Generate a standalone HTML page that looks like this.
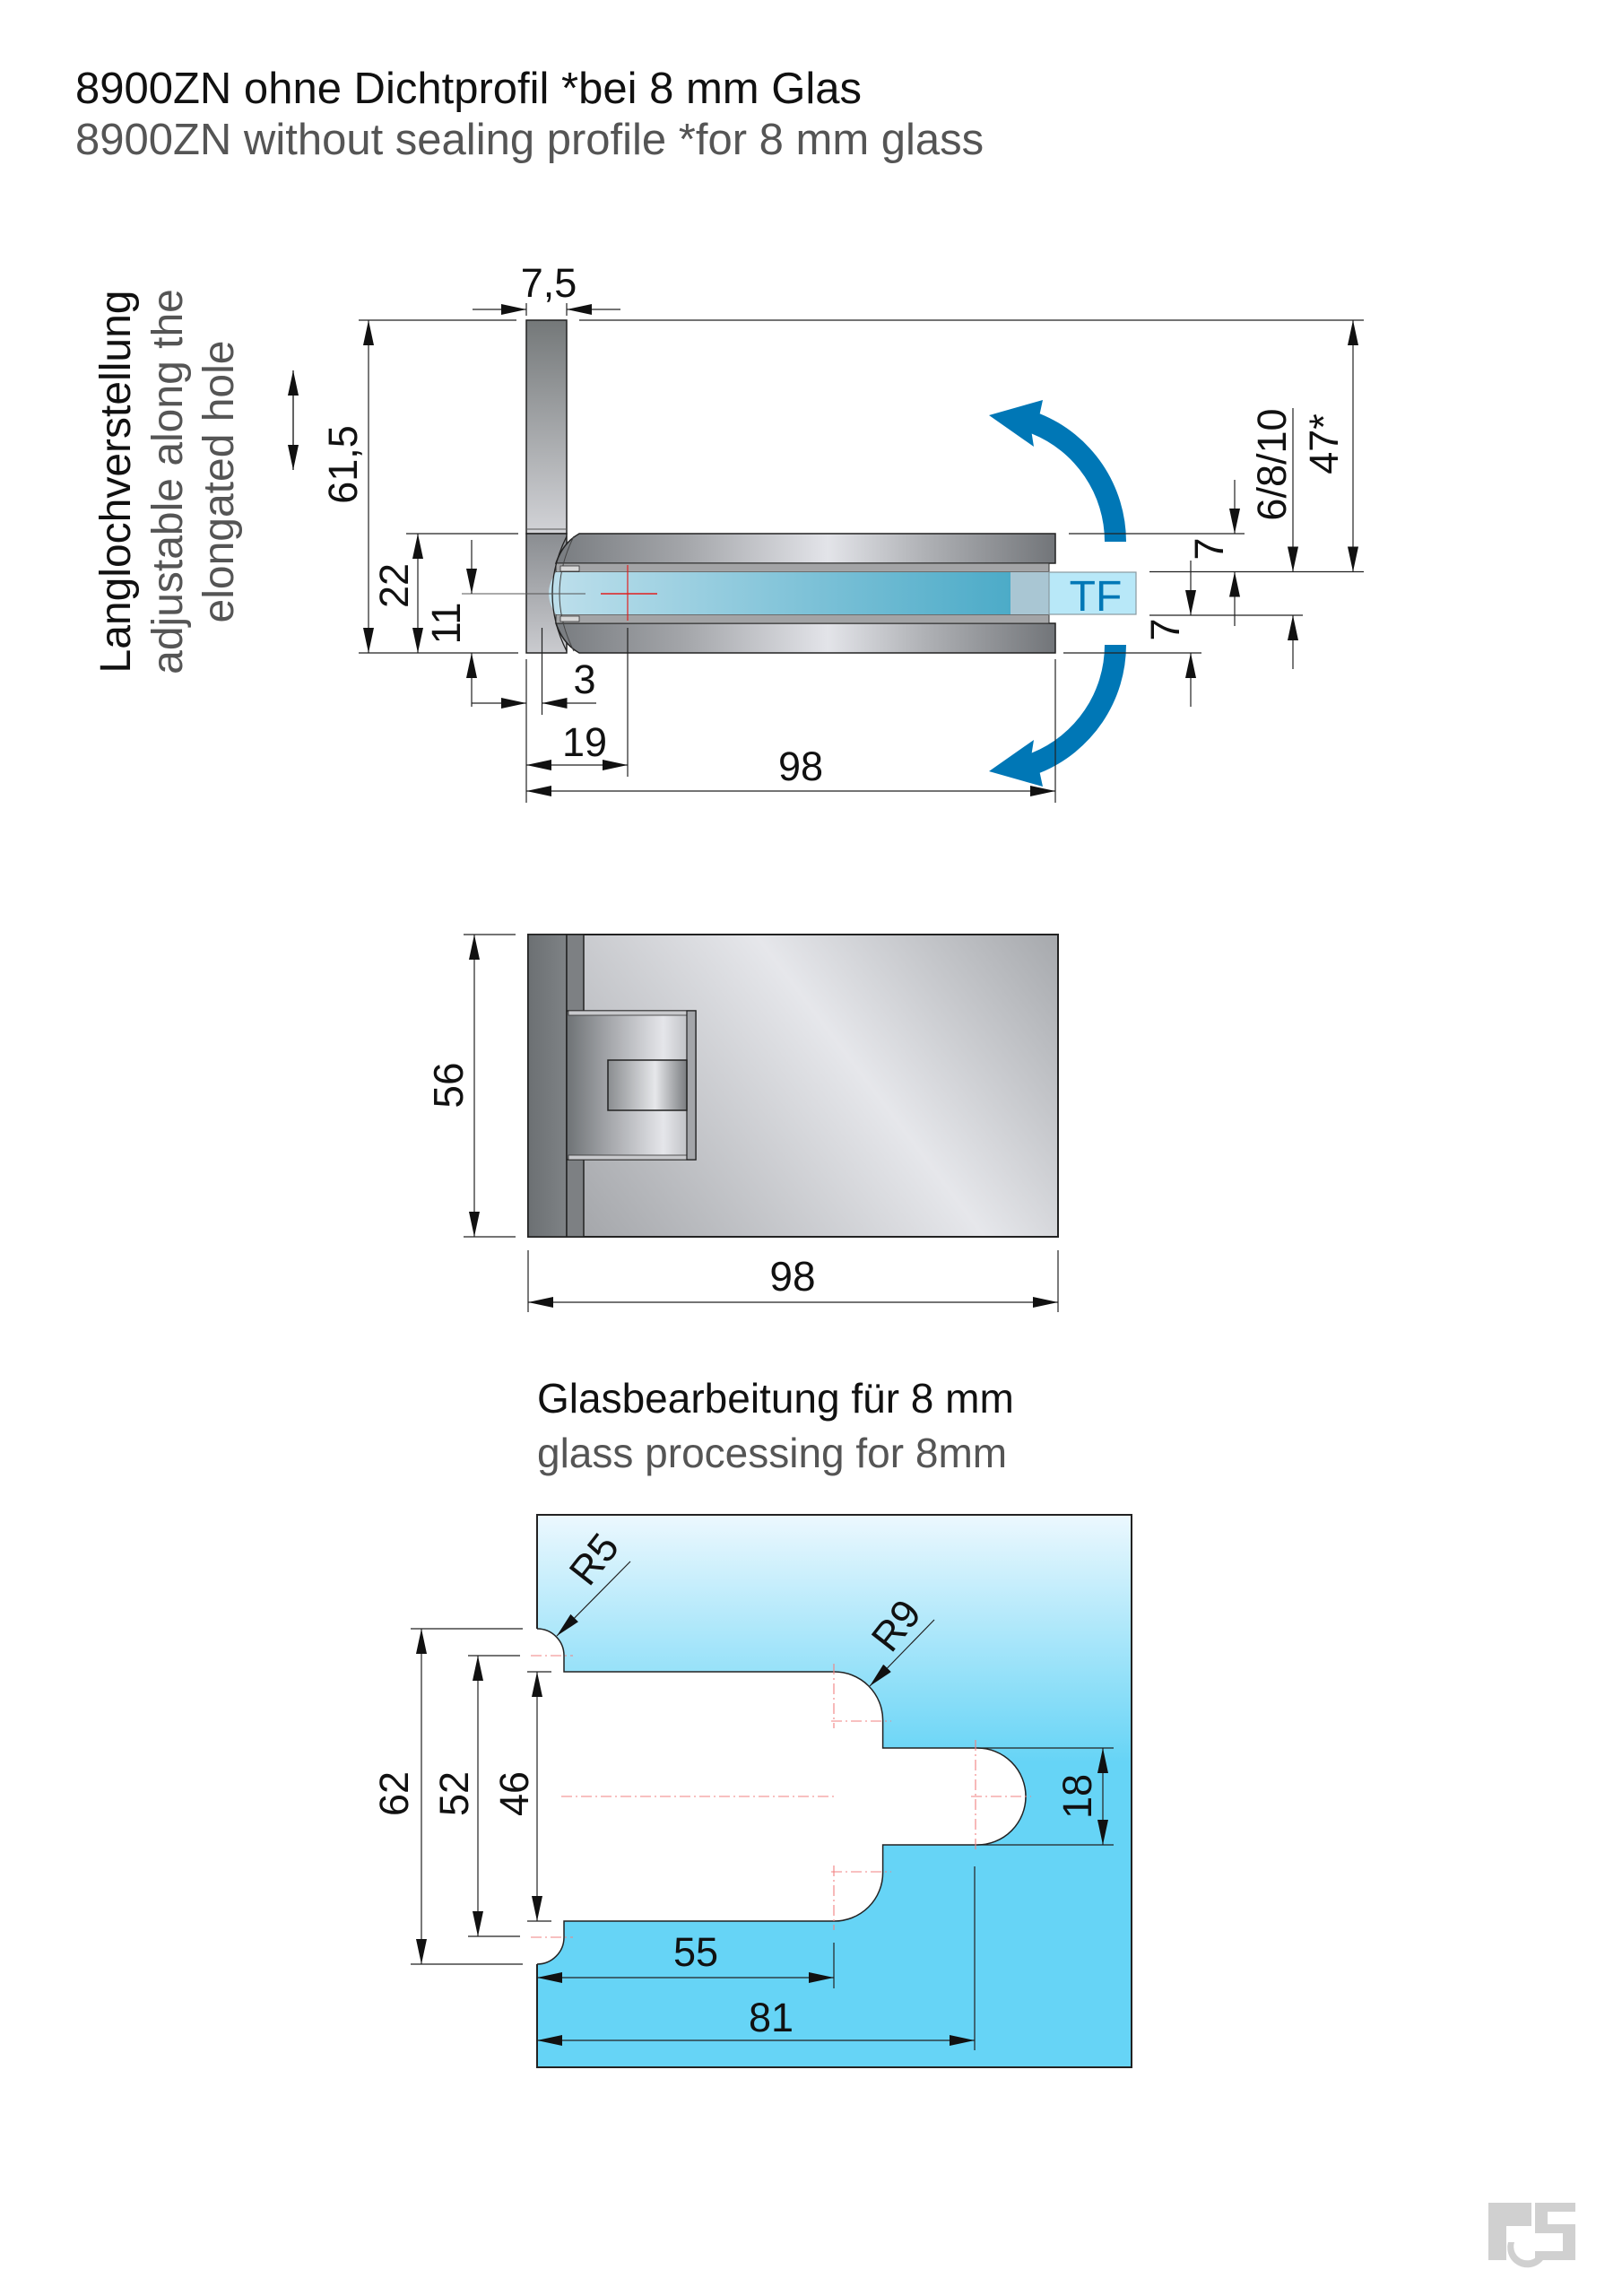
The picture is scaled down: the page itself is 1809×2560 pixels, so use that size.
<!DOCTYPE html>
<html><head><meta charset="utf-8"><style>
html,body{margin:0;padding:0;background:#fff;}
svg{display:block;}
text{font-family:"Liberation Sans",Arial,sans-serif;}
</style></head><body>
<svg width="1809" height="2560" viewBox="0 0 1809 2560" xmlns="http://www.w3.org/2000/svg">
<defs>
<marker id="a" viewBox="0 0 28 12" refX="28" refY="6" markerWidth="28" markerHeight="12" markerUnits="userSpaceOnUse" orient="auto-start-reverse"><path d="M0,0 L28,6 L0,12 z" fill="#111"/></marker>
<linearGradient id="plate" x1="0" y1="357" x2="0" y2="595" gradientUnits="userSpaceOnUse"><stop offset="0" stop-color="#747879"/><stop offset="1" stop-color="#d2d3d7"/></linearGradient>
<linearGradient id="bar" x1="587" y1="0" x2="1177" y2="0" gradientUnits="userSpaceOnUse"><stop offset="0" stop-color="#6e7276"/><stop offset="0.3" stop-color="#a4a6aa"/><stop offset="0.57" stop-color="#e3e4e9"/><stop offset="0.75" stop-color="#b0b2b6"/><stop offset="1" stop-color="#727579"/></linearGradient>
<linearGradient id="blk" x1="0" y1="595" x2="0" y2="728" gradientUnits="userSpaceOnUse"><stop offset="0" stop-color="#8a8d91"/><stop offset="1" stop-color="#cacbcf"/></linearGradient>
<linearGradient id="gl" x1="606" y1="0" x2="1127" y2="0" gradientUnits="userSpaceOnUse"><stop offset="0" stop-color="#bfe0ec"/><stop offset="1" stop-color="#4cabc8"/></linearGradient>
<linearGradient id="face" x1="600" y1="1300" x2="1180" y2="860" gradientUnits="userSpaceOnUse"><stop offset="0" stop-color="#a6a8ac"/><stop offset="0.48" stop-color="#e6e7eb"/><stop offset="1" stop-color="#8c8f93"/></linearGradient>
<linearGradient id="dark" x1="589" y1="0" x2="651" y2="0" gradientUnits="userSpaceOnUse"><stop offset="0" stop-color="#6c7073"/><stop offset="1" stop-color="#868a8d"/></linearGradient>
<linearGradient id="hin" x1="632" y1="0" x2="776" y2="0" gradientUnits="userSpaceOnUse"><stop offset="0" stop-color="#6e7275"/><stop offset="0.35" stop-color="#a8aaae"/><stop offset="0.75" stop-color="#e5e6ea"/><stop offset="1" stop-color="#b4b6ba"/></linearGradient>
<linearGradient id="knu" x1="678" y1="0" x2="766" y2="0" gradientUnits="userSpaceOnUse"><stop offset="0" stop-color="#8a8d90"/><stop offset="0.6" stop-color="#e6e7ea"/><stop offset="1" stop-color="#7a7d80"/></linearGradient>
<linearGradient id="glass" x1="0" y1="1689" x2="0" y2="1965" gradientUnits="userSpaceOnUse"><stop offset="0" stop-color="#ecf8fe"/><stop offset="1" stop-color="#66d4f6"/></linearGradient>
</defs>

<text x="84" y="115" font-size="49" fill="#111">8900ZN ohne Dichtprofil *bei 8 mm Glas</text>
<text x="84" y="172" font-size="49" fill="#555">8900ZN without sealing profile *for 8 mm glass</text>

<text transform="translate(145,537) rotate(-90)" text-anchor="middle" font-size="48" fill="#111">Langlochverstellung</text>
<text transform="translate(203,537) rotate(-90)" text-anchor="middle" font-size="48" fill="#555">adjustable along the</text>
<text transform="translate(260,537) rotate(-90)" text-anchor="middle" font-size="48" fill="#555">elongated hole</text>
<line x1="327" y1="413" x2="327" y2="524" stroke="#111" stroke-width="1.3" marker-start="url(#a)" marker-end="url(#a)"/>

<rect x="587" y="357" width="45" height="238" fill="url(#plate)" stroke="#222" stroke-width="1.5"/>
<rect x="587" y="595" width="45" height="133" fill="url(#blk)" stroke="#222" stroke-width="1.5"/>
<line x1="587" y1="590" x2="632" y2="590" stroke="#555" stroke-width="1"/>
<path d="M646,595 L1177,595 L1177,628 L620,628 Q628,605 646,595 Z" fill="url(#bar)" stroke="#222" stroke-width="1.5"/>
<path d="M620,695 L1177,695 L1177,728 L646,728 Q628,718 620,695 Z" fill="url(#bar)" stroke="#222" stroke-width="1.5"/>
<rect x="620" y="628" width="550" height="10" fill="#a3a4a6" stroke="#333" stroke-width="1"/>
<rect x="620" y="685" width="550" height="10" fill="#a3a4a6" stroke="#333" stroke-width="1"/>
<path d="M620,638 L1127,638 L1127,685 L620,685 Q604,662 620,638 Z" fill="url(#gl)"/>
<rect x="1127" y="638" width="43" height="47" fill="#a9c6d3"/>
<rect x="1170" y="638" width="97" height="47" fill="#b8e8f8" stroke="#8a9aa0" stroke-width="1.2"/>
<text x="1222" y="681" text-anchor="middle" font-size="48" fill="#0077b6">TF</text>
<path d="M632,598 Q600,662 632,726" fill="none" stroke="#222" stroke-width="1.3"/>
<path d="M640,598 Q608,662 640,726" fill="none" stroke="#444" stroke-width="1"/>
<rect x="625" y="631" width="21" height="6" fill="#d8d8d8" stroke="#333" stroke-width="0.8"/>
<rect x="625" y="687" width="21" height="6" fill="#d8d8d8" stroke="#333" stroke-width="0.8"/>
<line x1="515" y1="662" x2="653" y2="662" stroke="#555" stroke-width="1"/>
<line x1="670" y1="662" x2="733" y2="662" stroke="#e02020" stroke-width="1.4"/>
<line x1="700" y1="630" x2="700" y2="692" stroke="#e02020" stroke-width="1.2"/>

<path d="M1256,604 A154,154 0 0 0 1159.7,461.2 L1163,446 L1103,463 L1153,498 L1150.7,483.5 A130,130 0 0 1 1232,604 Z" fill="#0077b6"/>
<path d="M1256,719 A154,154 0 0 1 1159.7,861.8 L1163,877 L1103,860 L1153,825 L1150.7,839.5 A130,130 0 0 0 1232,719 Z" fill="#0077b6"/>

<g stroke="#222" stroke-width="1.2" fill="none">
<line x1="527" y1="345" x2="587" y2="345" marker-end="url(#a)"/>
<line x1="692" y1="345" x2="632" y2="345" marker-end="url(#a)"/>
<line x1="587" y1="338" x2="587" y2="352"/><line x1="632" y1="338" x2="632" y2="352"/>
<line x1="400" y1="357" x2="576" y2="357"/>
<line x1="646" y1="357" x2="1521" y2="357"/>
<line x1="400" y1="728" x2="578" y2="728"/>
<line x1="453" y1="595" x2="578" y2="595"/>
<line x1="411" y1="357" x2="411" y2="728" marker-start="url(#a)" marker-end="url(#a)"/>
<line x1="466" y1="595" x2="466" y2="728" marker-start="url(#a)" marker-end="url(#a)"/>
<line x1="526" y1="602" x2="526" y2="662" marker-end="url(#a)"/>
<line x1="526" y1="788" x2="526" y2="728" marker-end="url(#a)"/>
<line x1="526" y1="784" x2="587" y2="784" marker-end="url(#a)"/>
<line x1="665" y1="784" x2="604.5" y2="784" marker-end="url(#a)"/>
<line x1="587" y1="735" x2="587" y2="895"/>
<line x1="604.5" y1="700" x2="604.5" y2="797"/>
<line x1="700" y1="700" x2="700" y2="866"/>
<line x1="1177" y1="735" x2="1177" y2="895"/>
<line x1="587" y1="853" x2="700" y2="853" marker-start="url(#a)" marker-end="url(#a)"/>
<line x1="587" y1="882" x2="1177" y2="882" marker-start="url(#a)" marker-end="url(#a)"/>
<line x1="1192" y1="595" x2="1388" y2="595"/>
<line x1="1282" y1="637.5" x2="1521" y2="637.5"/>
<line x1="1282" y1="686" x2="1453" y2="686"/>
<line x1="1186" y1="728" x2="1340" y2="728"/>
<line x1="1509" y1="357" x2="1509" y2="637.5" marker-start="url(#a)" marker-end="url(#a)"/>
<line x1="1442" y1="455" x2="1442" y2="637.5" marker-end="url(#a)"/>
<line x1="1442" y1="746" x2="1442" y2="686" marker-end="url(#a)"/>
<line x1="1377" y1="535" x2="1377" y2="595" marker-end="url(#a)"/>
<line x1="1377" y1="698" x2="1377" y2="637.5" marker-end="url(#a)"/>
<line x1="1328" y1="625" x2="1328" y2="686" marker-end="url(#a)"/>
<line x1="1328" y1="788" x2="1328" y2="728" marker-end="url(#a)"/>
</g>
<g font-size="45" fill="#111" text-anchor="middle">
<text x="612" y="331">7,5</text>
<text transform="translate(398,518) rotate(-90)">61,5</text>
<text transform="translate(455,653) rotate(-90)">22</text>
<text transform="translate(513,695) rotate(-90)">11</text>
<text x="652" y="773">3</text>
<text x="652" y="843">19</text>
<text x="893" y="870">98</text>
<text transform="translate(1492,495) rotate(-90)">47*</text>
<text transform="translate(1434,518) rotate(-90)">6/8/10</text>
<text transform="translate(1364,612) rotate(-90)">7</text>
<text transform="translate(1315,702) rotate(-90)">7</text>
</g>

<rect x="589" y="1042" width="591" height="337" fill="url(#face)" stroke="#222" stroke-width="2"/>
<rect x="589" y="1042" width="43" height="337" fill="url(#dark)" stroke="#222" stroke-width="1.5"/>
<rect x="632" y="1042" width="19" height="337" fill="#7d8083" stroke="#222" stroke-width="1.5"/>
<rect x="632" y="1127" width="144" height="166" fill="url(#hin)" stroke="#222" stroke-width="1.5"/>
<rect x="634" y="1127" width="132" height="5" fill="#c8c9cc" stroke="#333" stroke-width="0.8"/>
<rect x="634" y="1288" width="132" height="5" fill="#c8c9cc" stroke="#333" stroke-width="0.8"/>
<rect x="766" y="1127" width="10" height="166" fill="#a3a5a9" stroke="#222" stroke-width="1.2"/>
<rect x="678" y="1182" width="88" height="56" fill="url(#knu)" stroke="#222" stroke-width="1.5"/>
<g stroke="#222" stroke-width="1.2" fill="none">
<line x1="517" y1="1042" x2="575" y2="1042"/>
<line x1="517" y1="1379" x2="575" y2="1379"/>
<line x1="529" y1="1042" x2="529" y2="1379" marker-start="url(#a)" marker-end="url(#a)"/>
<line x1="589" y1="1394" x2="589" y2="1463"/>
<line x1="1180" y1="1394" x2="1180" y2="1463"/>
<line x1="589" y1="1452" x2="1180" y2="1452" marker-start="url(#a)" marker-end="url(#a)"/>
</g>
<text transform="translate(516,1210) rotate(-90)" text-anchor="middle" font-size="46" fill="#111">56</text>
<text x="884" y="1439" text-anchor="middle" font-size="46" fill="#111">98</text>

<text x="599" y="1575" font-size="46" fill="#111">Glasbearbeitung für 8 mm</text>
<text x="599" y="1636" font-size="46" fill="#555">glass processing for 8mm</text>

<rect x="599" y="1689" width="663" height="616" fill="url(#glass)"/>
<path d="M599,1816 A30,30 0 0 1 629,1846 L629,1864 L930,1864 A54,54 0 0 1 984.6,1918 L984.6,1949 L1090,1949 A54,54 0 0 1 1090,2057 L984.6,2057 L984.6,2088 A54,54 0 0 1 930,2142 L629,2142 L629,2160 A30,30 0 0 1 599,2190 Z" fill="#fff"/>
<path d="M599,1816 A30,30 0 0 1 629,1846 L629,1864 L930,1864 A54,54 0 0 1 984.6,1918 L984.6,1949 L1090,1949 A54,54 0 0 1 1090,2057 L984.6,2057 L984.6,2088 A54,54 0 0 1 930,2142 L629,2142 L629,2160 A30,30 0 0 1 599,2190" fill="none" stroke="#222" stroke-width="1.5"/>
<path d="M599,1816 L599,1689 L1262,1689 L1262,2305 L599,2305 L599,2190" fill="none" stroke="#222" stroke-width="2"/>
<g stroke="#f08080" stroke-width="1.1" stroke-dasharray="12 4 2 4" fill="none">
<line x1="626" y1="2003" x2="933" y2="2003"/>
<line x1="1083" y1="2003" x2="1150" y2="2003"/>
<line x1="930" y1="1855" x2="930" y2="1927"/>
<line x1="927" y1="1919" x2="994" y2="1919"/>
<line x1="930" y1="2080" x2="930" y2="2152"/>
<line x1="927" y1="2087" x2="994" y2="2087"/>
<line x1="1088" y1="1940" x2="1088" y2="2066"/>
<line x1="592" y1="1846" x2="639" y2="1846"/>
<line x1="592" y1="2160" x2="639" y2="2160"/>
</g>
<g stroke="#222" stroke-width="1.2" fill="none">
<line x1="458" y1="1816" x2="583" y2="1816"/>
<line x1="458" y1="2190" x2="583" y2="2190"/>
<line x1="522" y1="1846" x2="580" y2="1846"/>
<line x1="522" y1="2159" x2="580" y2="2159"/>
<line x1="588" y1="1864" x2="615" y2="1864"/>
<line x1="588" y1="2142" x2="615" y2="2142"/>
<line x1="470" y1="1816" x2="470" y2="2190" marker-start="url(#a)" marker-end="url(#a)"/>
<line x1="533" y1="1846" x2="533" y2="2159" marker-start="url(#a)" marker-end="url(#a)"/>
<line x1="599" y1="1864" x2="599" y2="2142" marker-start="url(#a)" marker-end="url(#a)"/>
<line x1="1090" y1="1949" x2="1242" y2="1949"/>
<line x1="1090" y1="2057" x2="1242" y2="2057"/>
<line x1="1230" y1="1949" x2="1230" y2="2057" marker-start="url(#a)" marker-end="url(#a)"/>
<line x1="930" y1="2166" x2="930" y2="2217"/>
<line x1="1087" y1="2081" x2="1087" y2="2286"/>
<line x1="599" y1="2205" x2="930" y2="2205" marker-start="url(#a)" marker-end="url(#a)"/>
<line x1="599" y1="2275" x2="1087" y2="2275" marker-start="url(#a)" marker-end="url(#a)"/>
<line x1="703" y1="1741" x2="621" y2="1824" marker-end="url(#a)"/>
<line x1="1042" y1="1806" x2="970" y2="1880" marker-end="url(#a)"/>
</g>
<g font-size="45" fill="#111" text-anchor="middle">
<text transform="translate(455,2000) rotate(-90)">62</text>
<text transform="translate(522,2000) rotate(-90)">52</text>
<text transform="translate(589,2000) rotate(-90)">46</text>
<text transform="translate(1217,2003) rotate(-90)">18</text>
<text x="776" y="2192">55</text>
<text x="860" y="2265">81</text>
<text transform="translate(662,1738) rotate(-52)" dy="16">R5</text>
<text transform="translate(999,1812) rotate(-52)" dy="16">R9</text>
</g>

<g fill="#d0d0d0">
<rect x="1660" y="2456" width="48" height="26"/>
<rect x="1660" y="2456" width="20" height="64"/>
<rect x="1712" y="2456" width="45" height="10"/>
<rect x="1712" y="2456" width="14" height="32"/>
<rect x="1712" y="2480" width="45" height="10"/>
<rect x="1743" y="2480" width="14" height="40"/>
<rect x="1712" y="2510" width="45" height="10"/>
<path d="M1682,2500 A22,22 0 0 0 1725,2512 L1718,2510 A15,15 0 0 1 1689,2500 Z"/>
</g>
</svg>
</body></html>
